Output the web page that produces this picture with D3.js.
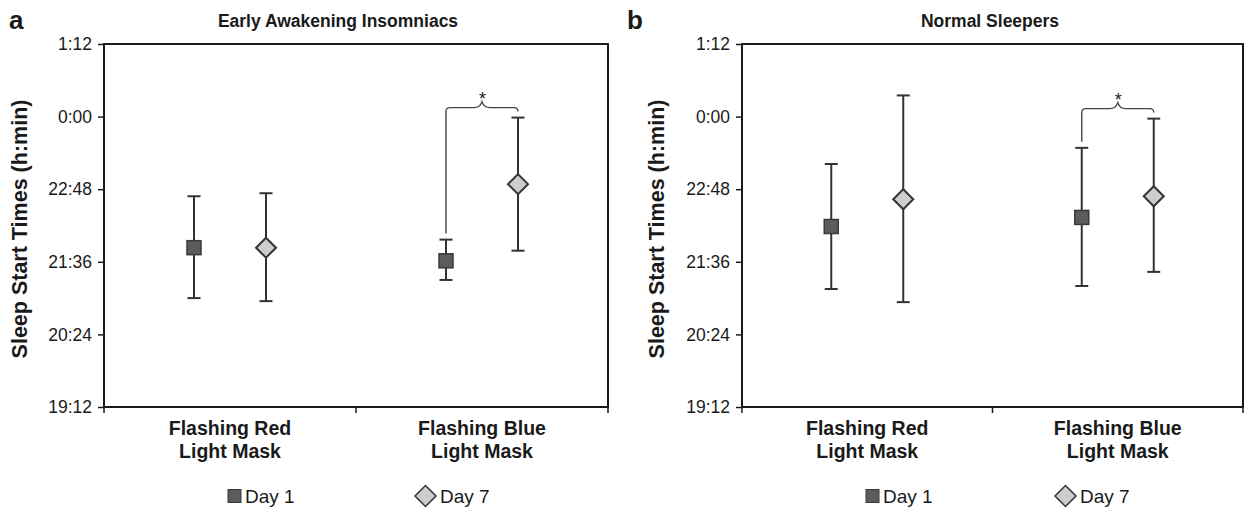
<!DOCTYPE html>
<html><head><meta charset="utf-8">
<script src="https://cdn.jsdelivr.net/npm/d3@7"></script>
<style>
html,body{margin:0;padding:0;background:#fff;}
svg{display:block;font-family:Arial,"Liberation Sans",sans-serif;}
</style></head>
<body><svg id="chart" width="1248" height="509"></svg>
<script>
// ---- data ----
const categories = ["Flashing Red Light Mask", "Flashing Blue Light Mask"];
const categoryLines = [["Flashing Red", "Light Mask"], ["Flashing Blue", "Light Mask"]];
const series = ["Day 1", "Day 7"];
const yTickLabels = ["19:12", "20:24", "21:36", "22:48", "0:00", "1:12"];
const panelTitles = ["Early Awakening Insomniacs", "Normal Sleepers"];
const panelLetters = ["a", "b"];

// Early awakening insomniacs (h:min)
const insomDay1Mean = ["21:50", "21:37"];
const insomDay1Low  = ["21:00", "21:18"];
const insomDay1High = ["22:41", "21:58"];
const insomDay7Mean = ["21:50", "22:53"];
const insomDay7Low  = ["20:57", "21:47"];
const insomDay7High = ["22:44", "23:59"];

// Normal sleepers (h:min)
const normDay1Mean = ["22:11", "22:20"];
const normDay1Low  = ["21:09", "21:12"];
const normDay1High = ["23:13", "23:29"];
const normDay7Mean = ["22:38", "22:41"];
const normDay7Low  = ["20:56", "21:26"];
const normDay7High = ["0:21", "23:58"];

// significant Day1 vs Day7 comparison (category)
const insomSignificant = ["Flashing Blue Light Mask"];
const normSignificant = ["Flashing Blue Light Mask"];

// ---- helpers ----
function toHours(s) {
  const [h, m] = s.split(":").map(Number);
  let v = h + m / 60;
  if (v < 12) v += 24; // after midnight
  return v;
}
function build(means1, lows1, highs1, means7, lows7, highs7) {
  const rows = [];
  categories.forEach((c, i) => {
    rows.push({cat: c, s: "Day 1", mean: toHours(means1[i]), lo: toHours(lows1[i]), hi: toHours(highs1[i])});
    rows.push({cat: c, s: "Day 7", mean: toHours(means7[i]), lo: toHours(lows7[i]), hi: toHours(highs7[i])});
  });
  return rows;
}
const panels = [
  {letter: panelLetters[0], title: panelTitles[0], titleX: 338, x0: 104, x1: 608, labelX: 27, letterX: 9,
   rows: build(insomDay1Mean, insomDay1Low, insomDay1High, insomDay7Mean, insomDay7Low, insomDay7High),
   sig: insomSignificant, legendX: [228, 415]},
  {letter: panelLetters[1], title: panelTitles[1], titleX: 990, x0: 742, x1: 1243, labelX: 664, letterX: 627,
   rows: build(normDay1Mean, normDay1Low, normDay1High, normDay7Mean, normDay7Low, normDay7High),
   sig: normSignificant, legendX: [866, 1055]}
];

const svg = d3.select("#chart");
const yTop = 44, yBot = 407;
const y = d3.scaleLinear().domain([toHours(yTickLabels[0]), toHours(yTickLabels[yTickLabels.length - 1])]).range([yBot, yTop]);
const offset = d3.scalePoint().domain(series).range([-36, 36]);
const ink = "#1a1a1a";
const sqFill = "#5c5c5c", sqStroke = "#3a3a3a";
const dmFill = "#cdcdcd", dmStroke = "#333";

function fmt(v) {
  let tot = Math.round(v * 60) % (24 * 60);
  const h = Math.floor(tot / 60), m = tot % 60;
  return h + ":" + String(m).padStart(2, "0");
}

panels.forEach(p => {
  const g = svg.append("g");
  const x = d3.scaleBand().domain(categories).range([p.x0, p.x1]).padding(0);
  const cx = d => x(d.cat) + x.bandwidth() / 2 + offset(d.s);

  // letter and title
  g.append("text").attr("x", p.letterX).attr("y", 29).attr("font-size", 26).attr("font-weight", "bold")
    .attr("fill", ink).text(p.letter);
  g.append("text").attr("x", p.titleX).attr("y", 27).attr("text-anchor", "middle").attr("font-size", 17.5)
    .attr("font-weight", "bold").attr("fill", ink).text(p.title);

  // y axis
  const yAxis = d3.axisLeft(y).tickValues(yTickLabels.map(toHours)).tickFormat(fmt).tickSize(6).tickPadding(6);
  const ya = g.append("g").attr("transform", `translate(${p.x0},0)`).call(yAxis);
  ya.select(".domain").remove();
  ya.selectAll(".tick line").attr("stroke", ink).attr("stroke-width", 1.5);
  ya.selectAll(".tick text").attr("font-size", 17.5).attr("fill", ink).attr("font-family", "Arial, 'Liberation Sans', sans-serif");

  // x axis ticks at category boundaries
  const bounds = [p.x0].concat(categories.map(c => x(c) + x.bandwidth()));
  g.selectAll(".xt").data(bounds).join("line")
    .attr("x1", d => d).attr("x2", d => d).attr("y1", yBot).attr("y2", yBot + 6)
    .attr("stroke", ink).attr("stroke-width", 1.5);

  // frame
  g.append("rect").attr("x", p.x0).attr("y", yTop).attr("width", p.x1 - p.x0).attr("height", yBot - yTop)
    .attr("fill", "none").attr("stroke", ink).attr("stroke-width", 2);

  // y label
  g.append("text").attr("transform", `translate(${p.labelX},229) rotate(-90)`)
    .attr("text-anchor", "middle").attr("font-size", 21.5).attr("font-weight", "bold").attr("fill", ink)
    .text("Sleep Start Times (h:min)");

  // category labels
  categories.forEach((c, i) => {
    const t = g.append("text").attr("x", x(c) + x.bandwidth() / 2).attr("y", 435)
      .attr("text-anchor", "middle").attr("font-size", 19.5).attr("font-weight", "bold").attr("fill", ink);
    categoryLines[i].forEach((ln, j) => {
      t.append("tspan").attr("x", x(c) + x.bandwidth() / 2).attr("dy", j === 0 ? 0 : 23).text(ln);
    });
  });

  // significance brackets
  p.sig.forEach(c => {
    const r1 = p.rows.find(d => d.cat === c && d.s === "Day 1");
    const r7 = p.rows.find(d => d.cat === c && d.s === "Day 7");
    const xa = cx(r1), xb = cx(r7), xm = (xa + xb) / 2;
    const topY = Math.min(y(r1.hi), y(r7.hi));
    const yb = topY - 10, rr = 4;
    const path = d3.path();
    path.moveTo(xa, y(r1.hi) - 6);
    path.lineTo(xa, yb + rr);
    path.quadraticCurveTo(xa, yb, xa + rr, yb);
    path.lineTo(xm - 8, yb);
    path.quadraticCurveTo(xm - 2, yb, xm, yb - 6);
    path.quadraticCurveTo(xm + 2, yb, xm + 8, yb);
    path.lineTo(xb - rr, yb);
    path.quadraticCurveTo(xb, yb, xb, yb + rr);
    path.lineTo(xb, y(r7.hi) - 6);
    g.append("path").attr("d", path.toString()).attr("fill", "none").attr("stroke", "#444").attr("stroke-width", 1.4);
    g.append("text").attr("x", xm + 0.5).attr("y", yb - 3).attr("text-anchor", "middle").attr("font-size", 18)
      .attr("fill", ink).text("*");
  });

  // error bars
  const eb = g.selectAll(".eb").data(p.rows).join("g");
  eb.append("line").attr("x1", cx).attr("x2", cx).attr("y1", d => y(d.lo)).attr("y2", d => y(d.hi))
    .attr("stroke", "#333").attr("stroke-width", 2);
  eb.append("line").attr("x1", d => cx(d) - 6.5).attr("x2", d => cx(d) + 6.5).attr("y1", d => y(d.hi)).attr("y2", d => y(d.hi))
    .attr("stroke", "#333").attr("stroke-width", 2);
  eb.append("line").attr("x1", d => cx(d) - 6.5).attr("x2", d => cx(d) + 6.5).attr("y1", d => y(d.lo)).attr("y2", d => y(d.lo))
    .attr("stroke", "#333").attr("stroke-width", 2);

  // markers
  g.selectAll(".sq").data(p.rows.filter(d => d.s === "Day 1")).join("rect")
    .attr("x", d => cx(d) - 7).attr("y", d => y(d.mean) - 7).attr("width", 14).attr("height", 14)
    .attr("fill", sqFill).attr("stroke", sqStroke).attr("stroke-width", 1.5);
  g.selectAll(".dm").data(p.rows.filter(d => d.s === "Day 7")).join("path")
    .attr("d", d => { const X = cx(d), Y = y(d.mean), s = 10; return `M${X},${Y - s}L${X + s},${Y}L${X},${Y + s}L${X - s},${Y}Z`; })
    .attr("fill", dmFill).attr("stroke", dmStroke).attr("stroke-width", 2);

  // legend
  const lg = g.append("g");
  const lx1 = p.legendX[0], lx7 = p.legendX[1], ly = 496;
  lg.append("rect").attr("x", lx1).attr("y", ly - 6.5).attr("width", 13).attr("height", 13)
    .attr("fill", sqFill).attr("stroke", sqStroke).attr("stroke-width", 1);
  lg.append("text").attr("x", lx1 + 17).attr("y", ly + 7).attr("font-size", 19).attr("fill", ink).text(series[0]);
  lg.append("path").attr("d", `M${lx7 + 10.5},${ly - 10.5}L${lx7 + 21},${ly}L${lx7 + 10.5},${ly + 10.5}L${lx7},${ly}Z`)
    .attr("fill", dmFill).attr("stroke", dmStroke).attr("stroke-width", 1.5);
  lg.append("text").attr("x", lx7 + 25).attr("y", ly + 7).attr("font-size", 19).attr("fill", ink).text(series[1]);
});
</script></body></html>
